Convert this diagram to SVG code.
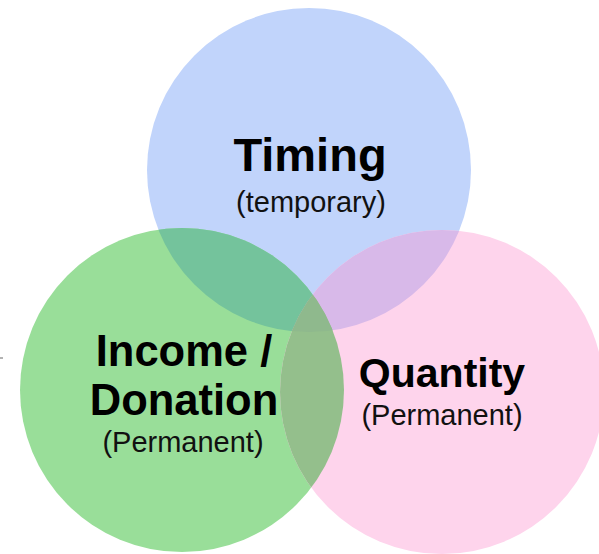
<svg xmlns="http://www.w3.org/2000/svg" width="599" height="554" viewBox="0 0 599 554">
  <style>
    .title { font-family: "Liberation Sans", Arial, sans-serif; font-weight: bold; fill: #000; text-anchor: middle; }
    .sub { font-family: "Liberation Sans", Arial, sans-serif; font-size: 29px; fill: #111; text-anchor: middle; }
  </style>
  <defs>
    <circle id="cTiming" cx="309" cy="170" r="162"/>
    <circle id="cIncome" cx="182" cy="390" r="162"/>
    <circle id="cQuantity" cx="442" cy="392" r="162"/>
    <clipPath id="clipTiming"><use href="#cTiming"/></clipPath>
    <clipPath id="clipIncome"><use href="#cIncome"/></clipPath>
    <clipPath id="clipQuantity"><use href="#cQuantity"/></clipPath>
  </defs>
  <rect width="599" height="554" fill="#ffffff"/>

  <!-- base circles -->
  <g id="timing-circle"><use href="#cTiming" fill="#c1d4fb"/></g>
  <g id="income-circle"><use href="#cIncome" fill="#99de99"/></g>
  <g id="quantity-circle"><use href="#cQuantity" fill="#fed4ec"/></g>

  <!-- overlap regions -->
  <g id="overlaps">
    <g clip-path="url(#clipTiming)"><use href="#cIncome" fill="#74c39c"/></g>
    <g clip-path="url(#clipTiming)"><use href="#cQuantity" fill="#d8b9e9"/></g>
    <g clip-path="url(#clipIncome)"><use href="#cQuantity" fill="#94bf8c"/></g>
    <g clip-path="url(#clipTiming)"><g clip-path="url(#clipIncome)"><use href="#cQuantity" fill="#8fb98d"/></g></g>
  </g>

  <!-- labels -->
  <g id="timing-label">
    <text class="title" x="310" y="171" font-size="47">Timing</text>
    <text class="sub" x="311" y="212">(temporary)</text>
  </g>
  <g id="income-label">
    <text class="title" x="184" y="366" font-size="43.5">Income /</text>
    <text class="title" x="184" y="415" font-size="43.5">Donation</text>
    <text class="sub" x="183" y="452">(Permanent)</text>
  </g>
  <g id="quantity-label">
    <text class="title" x="442" y="387" font-size="41">Quantity</text>
    <text class="sub" x="442" y="425">(Permanent)</text>
  </g>

  <!-- small tick at left edge -->
  <line x1="0" y1="358" x2="3" y2="358" stroke="#666" stroke-width="1"/>
</svg>
